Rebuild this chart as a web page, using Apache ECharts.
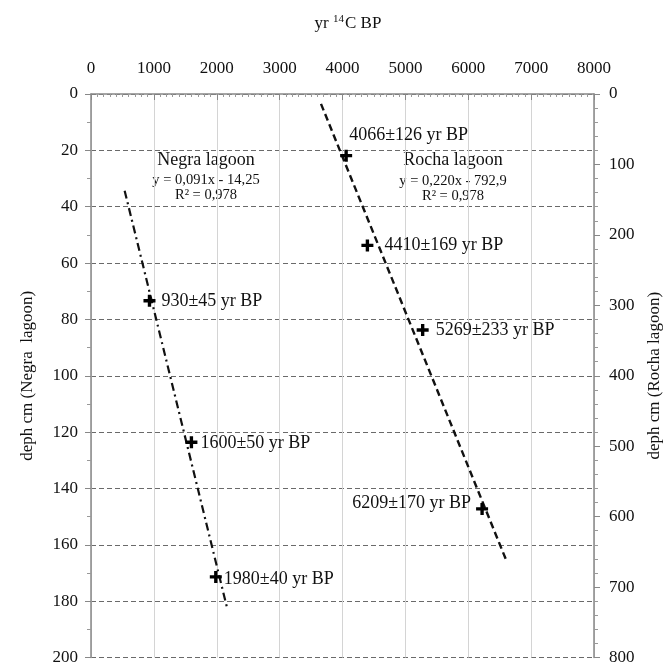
<!DOCTYPE html>
<html><head><meta charset="utf-8">
<script src="https://cdn.jsdelivr.net/npm/echarts@6/dist/echarts.min.js"></script>
<style>html,body{margin:0;padding:0;background:#fff}#c{width:671px;height:666px}</style>
</head><body><div id="c"></div>
<script>
// ---- data ----
const yearTicks = [0,1000,2000,3000,4000,5000,6000,7000,8000];
const negraYears = [930, 1597, 1985];
const negraDepths = [73.4, 123.6, 171.4];
const negraLabels = ['930±45 yr BP','1600±50 yr BP','1980±40 yr BP'];
const negraFit = [[535, 34.3], [2173, 183.2]];
const rochaYears = [4058, 4396, 5275, 6220];
const rochaDepths = [87.5, 215, 335, 589];
const rochaLabels = ['4066±126 yr BP','4410±169 yr BP','5269±233 yr BP','6209±170 yr BP'];
const rochaFit = [[3658, 14], [6609, 663]];

const FONT = '"Liberation Serif","DejaVu Serif",serif';
const TXT = '#111';
const PLUS = 'path://M3.6,0H6.4V3.6H10V6.4H6.4V10H3.6V6.4H0V3.6H3.6Z';

const negraLabelCfg = [
  {offset:[12,0]}, {offset:[9,1]}, {offset:[8,2]}
];
const rochaLabelCfg = [
  {offset:[3,-20], align:'left'},
  {offset:[17,0], align:'left'},
  {offset:[13,0], align:'left'},
  {offset:[-11,-6], align:'right'}
];
const chart = echarts.init(document.getElementById('c'));
const baseLabel = {show:true,position:'inside',align:'left',verticalAlign:'middle',
  color:TXT,fontSize:18,fontFamily:FONT,textBorderWidth:0,opacity:1};
chart.setOption({
  animation:false,
  textStyle:{fontFamily:FONT},
  grid:{left:91,right:72,top:94,bottom:8},
  xAxis:{
    type:'value', position:'top', min:0, max:8000, interval:1000,
    axisLine:{show:true,lineStyle:{color:'#888',width:1.5}},
    axisTick:{show:true,inside:true,length:6,lineStyle:{color:'#888'}},
    minorTick:{show:true,splitNumber:10,length:3,lineStyle:{color:'#999'}},
    axisLabel:{color:TXT,fontSize:17,fontFamily:FONT,margin:17,formatter:v=>String(v)},
    splitLine:{show:true,lineStyle:{color:'#d4d4d4',width:1}}
  },
  yAxis:[{
    type:'value', inverse:true, min:0, max:200, interval:20, position:'left',
    name:'deph cm (Negra  lagoon)', nameLocation:'middle', nameGap:55, nameRotate:90,
    nameTextStyle:{color:TXT,fontSize:17,fontFamily:FONT},
    axisLine:{show:true,lineStyle:{color:'#888',width:1.5}},
    axisTick:{show:true,length:6,lineStyle:{color:'#888'}},
    minorTick:{show:true,splitNumber:2,length:4,lineStyle:{color:'#999'}},
    axisLabel:{color:TXT,fontSize:17,fontFamily:FONT,margin:13},
    splitLine:{show:true,lineStyle:{color:'#6a6a6a',type:[5,3],width:1}}
  },{
    type:'value', inverse:true, min:0, max:800, interval:100, position:'right',
    name:'deph cm (Rocha lagoon)', nameLocation:'middle', nameGap:52, nameRotate:90,
    nameTextStyle:{color:TXT,fontSize:17,fontFamily:FONT},
    axisLine:{show:true,lineStyle:{color:'#888',width:1.5}},
    axisTick:{show:true,length:6,lineStyle:{color:'#888'}},
    minorTick:{show:true,splitNumber:5,length:4,lineStyle:{color:'#999'}},
    axisLabel:{color:TXT,fontSize:17,fontFamily:FONT,margin:15},
    splitLine:{show:false}
  }],
  graphic:[
    {type:'text',x:348,y:24,style:{text:'{a|yr }{s|14}{a|C BP}',align:'center',verticalAlign:'middle',
      rich:{a:{fontFamily:FONT,fontSize:17,fill:TXT},s:{fontFamily:FONT,fontSize:11,fill:TXT,padding:[0,1,9,0]}}}},
    {type:'text',x:206,y:160,style:{text:'Negra lagoon',font:'18px '+FONT,fill:TXT,align:'center',verticalAlign:'middle'}},
    {type:'text',x:206,y:180,style:{text:'y = 0,091x - 14,25',font:'14.5px '+FONT,fill:TXT,align:'center',verticalAlign:'middle'}},
    {type:'text',x:206,y:195,style:{text:'R² = 0,978',font:'14.5px '+FONT,fill:TXT,align:'center',verticalAlign:'middle'}},
    {type:'text',x:453,y:160,style:{text:'Rocha lagoon',font:'18px '+FONT,fill:TXT,align:'center',verticalAlign:'middle'}},
    {type:'text',x:453,y:181,style:{text:'y = 0,220x - 792,9',font:'14.5px '+FONT,fill:TXT,align:'center',verticalAlign:'middle'}},
    {type:'text',x:453,y:196,style:{text:'R² = 0,978',font:'14.5px '+FONT,fill:TXT,align:'center',verticalAlign:'middle'}}
  ],
  series:[
    {type:'line', yAxisIndex:0, data:negraFit, symbol:'none', silent:true,
     lineStyle:{color:'#111',width:2.2,type:[8,4,2,4]}},
    {type:'line', yAxisIndex:1, data:rochaFit, symbol:'none', silent:true,
     lineStyle:{color:'#111',width:2.4,type:[7,4]}},
    {type:'scatter', yAxisIndex:0, symbol:PLUS, symbolSize:12, z:5,
     itemStyle:{color:'#000',opacity:1},
     data:negraYears.map((x,i)=>({value:[x,negraDepths[i]],label:Object.assign({},negraLabelCfg[i])})),
     label:Object.assign({},baseLabel,{formatter:p=>negraLabels[p.dataIndex]})},
    {type:'scatter', yAxisIndex:1, symbol:PLUS, symbolSize:12, z:5,
     itemStyle:{color:'#000',opacity:1},
     data:rochaYears.map((x,i)=>({value:[x,rochaDepths[i]],label:Object.assign({},rochaLabelCfg[i])})),
     label:Object.assign({},baseLabel,{formatter:p=>rochaLabels[p.dataIndex]})}
  ]
});
</script></body></html>
